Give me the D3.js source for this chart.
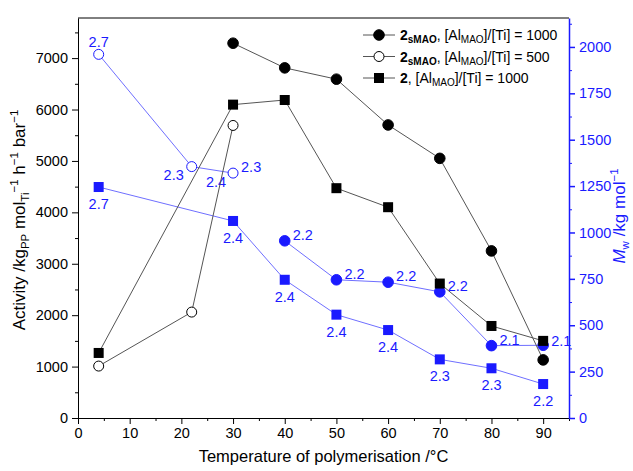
<!DOCTYPE html>
<meta charset="utf-8">
<style>
  body { margin: 0; background: #fff; }
  svg { font-family: "Liberation Sans", Arial, sans-serif; }
  .tick text { font-size: 14.5px; }
</style>
<body>
<svg width="633" height="471"></svg>
<script src="https://cdn.jsdelivr.net/npm/d3@7"></script>
<script>
// data ---------------------------------------------------------------
// activity (left axis), kg_PP mol_Ti^-1 h^-1 bar^-1
var tempSmao1000 = [30, 40, 50, 60, 70, 80, 90];
var actSmao1000  = [7290, 6810, 6590, 5700, 5050, 3250, 1130];
var tempSmao500  = [4, 22, 30];
var actSmao500   = [1010, 2060, 5690];
var temp2_1000   = [4, 30, 40, 50, 60, 70, 80, 90];
var act2_1000    = [1265, 6095, 6185, 4470, 4100, 2615, 1790, 1500];

// Mw (right axis), kg mol^-1, with dispersity labels
var mwSmao1000   = [955, 745, 732, 680, 390, 392];
var tempMwSmao1000 = [40, 50, 60, 70, 80, 90];
var pdiSmao1000  = ["2.2", "2.2", "2.2", "2.2", "2.1", "2.1"];
var mwSmao500    = [1960, 1355, 1320];
var pdiSmao500   = ["2.7", "2.3", "2.3"];
var mw2_1000     = [1245, 1062, 745, 557, 474, 316, 268, 183];
var pdi2_1000    = ["2.7", "2.4", "2.4", "2.4", "2.4", "2.3", "2.3", "2.2"];

var xTicks = [0, 10, 20, 30, 40, 50, 60, 70, 80, 90];
var yTicks = [0, 1000, 2000, 3000, 4000, 5000, 6000, 7000];
var y2Ticks = [0, 250, 500, 750, 1000, 1250, 1500, 1750, 2000];

// where each dispersity label sits relative to its point
var posSmao1000 = ["ar", "ar", "ar", "ar", "ar", "r"];
var posSmao500  = ["a", "bl", "ar"];
var pos2_1000   = ["b", "b", "b", "b", "b", "b", "b", "b"];
//---------------------------------------------------------------------

const svg = d3.select('svg');
const m = {left: 78, right: 569, top: 18, bottom: 418};
const blue = '#1a1aff';
const fmt = d3.format('d');

var x = d3.scaleLinear().domain([0, 95]).range([m.left, m.right]);
var y = d3.scaleLinear().domain([0, 7780]).range([m.bottom, m.top]);
var y2 = d3.scaleLinear().domain([0, 2156]).range([m.bottom, m.top]);

// axes ---------------------------------------------------------------
function minor(g, axis) { g.call(axis); g.selectAll('text').remove(); g.select('.domain').remove(); }

svg.append('g').attr('transform', 'translate(0,' + m.bottom + ')')
  .call(minor, d3.axisBottom(x).tickValues(d3.range(5, 96, 10)).tickSize(3));
svg.append('g').attr('transform', 'translate(0,' + m.bottom + ')')
  .call(d3.axisBottom(x).tickValues(xTicks).tickFormat(fmt).tickSize(6).tickSizeOuter(0).tickPadding(4));

svg.append('g').attr('transform', 'translate(' + m.left + ',0)')
  .call(minor, d3.axisLeft(y).tickValues(d3.range(500, 7780, 1000)).tickSize(3));
svg.append('g').attr('transform', 'translate(' + m.left + ',0)')
  .call(d3.axisLeft(y).tickValues(yTicks).tickFormat(fmt).tickSize(6).tickSizeOuter(0).tickPadding(4));

var r1 = svg.append('g').attr('transform', 'translate(' + m.right + ',0)')
  .call(minor, d3.axisRight(y2).tickValues(d3.range(125, 2156, 250)).tickSize(3));
var r2 = svg.append('g').attr('transform', 'translate(' + m.right + ',0)')
  .call(d3.axisRight(y2).tickValues(y2Ticks).tickFormat(fmt).tickSize(6).tickSizeOuter(0).tickPadding(4));
svg.selectAll('.domain, .tick line').attr('stroke', '#000');
r1.selectAll('line').attr('stroke', blue);
r2.selectAll('line, path').attr('stroke', blue).attr('stroke-width', 1.5);
r2.selectAll('text').attr('fill', blue);

// top frame line
svg.append('line').attr('x1', m.left).attr('x2', m.right).attr('y1', m.top).attr('y2', m.top)
  .attr('stroke', '#000');

// axis titles --------------------------------------------------------
svg.append('text').attr('x', (m.left + m.right) / 2).attr('y', 462)
  .attr('text-anchor', 'middle').attr('font-size', 16.5)
  .text('Temperature of polymerisation /°C');

var lt = svg.append('text').attr('transform', 'translate(25,' + 220 + ') rotate(-90)')
  .attr('text-anchor', 'middle').attr('font-size', 17);
lt.append('tspan').text('Activity /kg');
lt.append('tspan').attr('font-size', 11.5).attr('dy', 4).text('PP');
lt.append('tspan').attr('dy', -4).text(' mol');
lt.append('tspan').attr('font-size', 11.5).attr('dy', 4).text('Ti');
lt.append('tspan').attr('font-size', 11.5).attr('dy', -11).text('\u22121');
lt.append('tspan').attr('dy', 7).text(' h');
lt.append('tspan').attr('font-size', 11.5).attr('dy', -7).text('\u22121');
lt.append('tspan').attr('dy', 7).text(' bar');
lt.append('tspan').attr('font-size', 11.5).attr('dy', -7).text('\u22121');

var rt = svg.append('text').attr('transform', 'translate(625,' + 216 + ') rotate(-90)')
  .attr('text-anchor', 'middle').attr('font-size', 17).attr('fill', blue);
rt.append('tspan').attr('font-style', 'italic').text('M');
rt.append('tspan').attr('font-size', 11.5).attr('dy', 4).text('w');
rt.append('tspan').attr('dy', -4).text(' /kg mol');
rt.append('tspan').attr('font-size', 11.5).attr('dy', -7).text('\u22121');

// series -------------------------------------------------------------
var line = d3.line().x(d => d[0]).y(d => d[1]);

function series(xs, ys, sc, col, lineCol, shape, fill) {
  var pts = xs.map((t, i) => [x(t), sc(ys[i])]);
  svg.append('path').attr('d', line(pts)).attr('fill', 'none')
    .attr('stroke', lineCol).attr('stroke-width', 1);
  pts.forEach(p => drawMark(svg, p[0], p[1], col, shape, fill));
  return pts;
}

function drawMark(g, px, py, col, shape, fill) {
  if (shape === 'circle') {
    g.append('circle').attr('cx', px).attr('cy', py).attr('r', fill ? 5.3 : 5)
      .attr('fill', fill ? col : '#fff').attr('stroke', col).attr('stroke-width', 1);
  } else {
    g.append('rect').attr('x', px - 5).attr('y', py - 5).attr('width', 10).attr('height', 10)
      .attr('fill', col);
  }
}

var offs = {
  ar: [8, -6, 'start'], r: [8, -4, 'start'], a: [0, -12, 'middle'],
  b: [0, 17, 'middle'], bl: [-18, 8, 'middle']
};
function labels(pts, txt, pos) {
  pts.forEach((p, i) => {
    var o = offs[pos[i]];
    svg.append('text').attr('x', p[0] + o[0]).attr('y', p[1] + o[1])
      .attr('text-anchor', o[2]).attr('dominant-baseline', 'central')
      .attr('font-size', 14.5).attr('fill', blue).text(txt[i]);
  });
}

var gray = '#555';
var lblue = '#6f6fff';
// blue Mw series drawn first
var p1 = series(tempMwSmao1000, mwSmao1000, y2, blue, lblue, 'circle', true);
var p2 = series(tempSmao500, mwSmao500, y2, blue, lblue, 'circle', false);
var p3 = series(temp2_1000, mw2_1000, y2, blue, lblue, 'square', true);
labels(p1, pdiSmao1000, posSmao1000);
labels(p2, pdiSmao500, posSmao500);
labels(p3, pdi2_1000, pos2_1000);
// second label at 30 °C open circle
svg.append('text').attr('x', p2[2][0] - 17).attr('y', p2[2][1] + 9)
  .attr('text-anchor', 'middle').attr('dominant-baseline', 'central')
  .attr('font-size', 14.5).attr('fill', blue).text('2.4');

series(temp2_1000, act2_1000, y, '#000', gray, 'square', true);
series(tempSmao500, actSmao500, y, '#000', gray, 'circle', false);
series(tempSmao1000, actSmao1000, y, '#000', gray, 'circle', true);

// legend -------------------------------------------------------------
var leg = [
  {shape: 'circle', fill: true, bold: '2', sub: 'sMAO', ratio: '1000'},
  {shape: 'circle', fill: false, bold: '2', sub: 'sMAO', ratio: '500'},
  {shape: 'square', fill: true, bold: '2', sub: '', ratio: '1000'}
];
leg.forEach((d, i) => {
  var ly = 35 + i * 21.5;
  svg.append('line').attr('x1', 363).attr('x2', 395).attr('y1', ly).attr('y2', ly)
    .attr('stroke', gray);
  drawMark(svg, 379, ly, '#000', d.shape, d.fill);
  var t = svg.append('text').attr('x', 400).attr('y', ly + 5).attr('font-size', 14);
  t.append('tspan').attr('font-weight', 'bold').text(d.bold);
  if (d.sub) t.append('tspan').attr('font-weight', 'bold').attr('font-size', 10).attr('dy', 3).text(d.sub);
  t.append('tspan').attr('dy', d.sub ? -3 : 0).text(', [Al');
  t.append('tspan').attr('font-size', 10).attr('dy', 3).text('MAO');
  t.append('tspan').attr('dy', -3).text(']/[Ti] = ' + d.ratio);
});
</script>
</body>
